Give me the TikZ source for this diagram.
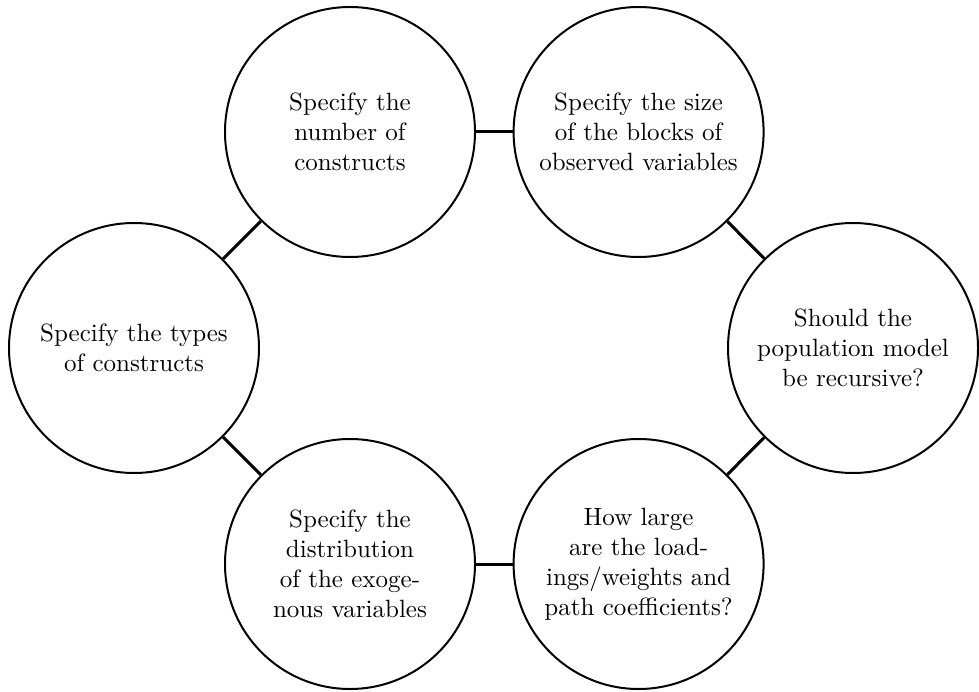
\documentclass[tikz,border=0pt]{standalone}
\begin{document}
\begin{tikzpicture}[x=0.4pt,y=-0.4pt,
  stage/.style={draw,circle,thick,minimum size=100pt,inner sep=0pt,
    align=center,font=\normalsize},
  link/.style={line width=1.2pt}]
\useasboundingbox (0,0) rectangle (979,692);
\node[stage] (num)  at (350,132)   {Specify the\\number of\\constructs};
\node[stage] (size) at (638.6,132) {Specify the size\\of the blocks of\\observed variables};
\node[stage] (rec)  at (853,348)   {Should the\\population model\\be recursive?};
\node[stage] (load) at (638.6,564) {How large\\are the load-\\ings/weights and\\path coefficients?};
\node[stage] (dist) at (350,564)   {Specify the\\distribution\\of the exoge-\\nous variables};
\node[stage] (type) at (134,348)   {Specify the types\\of constructs};
\draw[link] (num) -- (size);
\draw[link] (size) -- (rec);
\draw[link] (rec) -- (load);
\draw[link] (load) -- (dist);
\draw[link] (dist) -- (type);
\draw[link] (type) -- (num);
\end{tikzpicture}
\end{document}
